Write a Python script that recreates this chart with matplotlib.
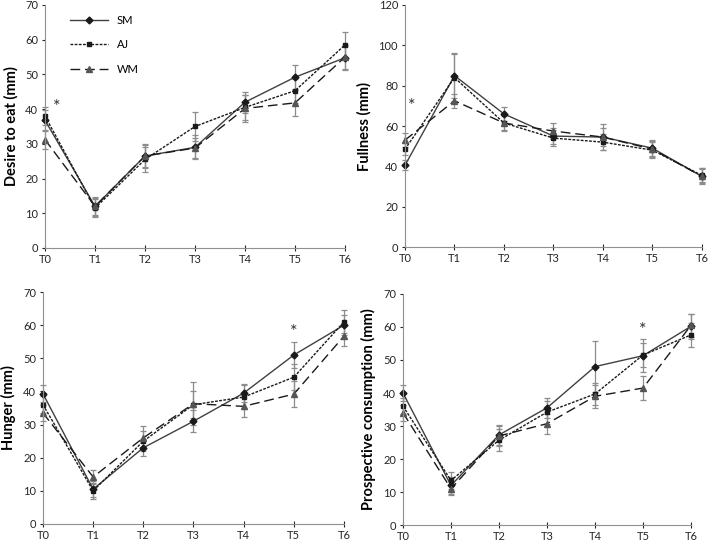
import matplotlib.pyplot as plt

plt.rcParams['font.family'] = ['Lato', 'DejaVu Sans']

times = ['T0', 'T1', 'T2', 'T3', 'T4', 'T5', 'T6']
groups = ['SM', 'AJ', 'WM']

# Desire to eat
desire_sm = [36.8, 12.0, 26.5, 29.0, 42.0, 49.2, 54.8]
desire_aj = [38.0, 11.5, 25.5, 35.0, 40.5, 45.3, 58.5]
desire_wm = [31.2, 12.0, 26.5, 28.8, 40.2, 41.8, 55.0]
desire_sm_err = [3.0, 2.8, 3.5, 3.5, 3.0, 3.5, 3.5]
desire_aj_err = [2.5, 2.5, 3.5, 4.2, 3.5, 3.5, 3.8]
desire_wm_err = [2.8, 2.5, 3.2, 3.0, 4.0, 3.8, 3.5]

# Fullness
full_sm = [40.5, 85.0, 66.0, 55.0, 54.5, 49.0, 35.0]
full_aj = [48.5, 84.0, 61.5, 54.0, 52.0, 48.0, 35.5]
full_wm = [53.0, 72.5, 61.5, 57.5, 54.5, 48.5, 35.0]
full_sm_err = [2.5, 11.0, 3.5, 4.0, 6.5, 4.0, 4.0]
full_aj_err = [3.0, 11.5, 3.5, 4.0, 4.0, 4.0, 3.5]
full_wm_err = [3.5, 3.5, 4.0, 4.0, 4.5, 4.0, 3.5]

# Hunger
hunger_sm = [39.3, 10.5, 23.0, 31.0, 39.5, 51.0, 60.0]
hunger_aj = [36.0, 10.0, 25.0, 36.0, 38.3, 44.3, 61.0]
hunger_wm = [33.5, 14.2, 26.0, 36.3, 35.5, 39.2, 56.7]
hunger_sm_err = [2.5, 2.5, 2.5, 3.3, 2.8, 3.8, 3.0]
hunger_aj_err = [2.5, 2.5, 3.0, 4.0, 3.5, 4.0, 3.5]
hunger_wm_err = [2.5, 2.0, 3.5, 6.5, 3.3, 4.0, 3.0]

# Prospective consumption
prosp_sm = [40.0, 12.0, 27.3, 35.5, 48.0, 51.3, 60.2]
prosp_aj = [36.0, 13.5, 25.7, 34.2, 39.7, 51.5, 57.6]
prosp_wm = [34.0, 11.0, 27.0, 30.7, 39.0, 41.5, 60.5]
prosp_sm_err = [2.5, 2.5, 3.0, 3.0, 7.8, 5.0, 3.8]
prosp_aj_err = [2.5, 2.5, 3.3, 3.5, 3.3, 3.5, 3.7]
prosp_wm_err = [2.5, 2.0, 3.0, 3.0, 3.5, 3.7, 3.5]

panels = [
    ('Desire to eat (mm)', 70, [desire_sm, desire_aj, desire_wm],
     [desire_sm_err, desire_aj_err, desire_wm_err], (0.24, 40.5),
     [0.0635, 0.5433, 0.4231, 0.4475]),
    ('Fullness (mm)', 120, [full_sm, full_aj, full_wm],
     [full_sm_err, full_aj_err, full_wm_err], (0.14, 70.0),
     [0.5712, 0.5451, 0.4188, 0.4457]),
    ('Hunger (mm)', 70, [hunger_sm, hunger_aj, hunger_wm],
     [hunger_sm_err, hunger_aj_err, hunger_wm_err], (5, 58.0),
     [0.0606, 0.035, 0.4246, 0.4272]),
    ('Prospective consumption (mm)', 70, [prosp_sm, prosp_aj, prosp_wm],
     [prosp_sm_err, prosp_aj_err, prosp_wm_err], (5, 59.0),
     [0.5684, 0.0331, 0.4062, 0.4255]),
]

styles = [
    dict(linestyle='-', marker='D', markersize=3.5, color='#404040', mfc='#1a1a1a', mec='#1a1a1a'),
    dict(linestyle=(0, (2, 1)), marker='s', markersize=3.5, color='#1a1a1a', mfc='#1a1a1a', mec='#1a1a1a'),
    dict(linestyle=(0, (7, 3.5)), marker='^', markersize=4.5, color='#1a1a1a', mfc='#555555', mec='#555555'),
]

fig = plt.figure(figsize=(7.09, 5.43), dpi=100)
x = list(range(len(times)))

for ylabel, ymax, series, errs, star, rect in panels:
    ax = fig.add_axes(rect)
    handles = []
    for name, vals, err, st in zip(groups, series, errs, styles):
        cont = ax.errorbar(x, vals, yerr=err, ecolor='#8c8c8c', elinewidth=0.9,
                           capsize=2.5, capthick=0.9, linewidth=1.0, **st)
        cont[0].set_label(name)
        handles.append(cont[0])
    ax.text(star[0], star[1], '*', ha='center', va='center', fontsize=13, color='#333333')
    ax.set_xlim(0, 6)
    ax.set_ylim(0, ymax)
    step = 20 if ymax > 100 else 10
    ax.set_yticks(range(0, ymax + 1, step))
    ax.set_xticks(x)
    ax.set_xticklabels(times)
    ax.tick_params(labelsize=8, colors='#262626', length=2.5, width=0.8, pad=2.5)
    ax.tick_params(axis='x', direction='inout', length=4, pad=2)
    for sp in ['top', 'right']:
        ax.spines[sp].set_visible(False)
    for sp in ['left', 'bottom']:
        ax.spines[sp].set_color('#909090')
    ax.set_ylabel(ylabel, fontsize=10.5, fontweight='bold', labelpad=5)
    for child in ax.get_children():
        child.set_clip_on(False)
    if ylabel.startswith('Desire'):
        ax.legend(handles=handles, loc='upper left', bbox_to_anchor=(0.05, 1.0), frameon=False,
                  fontsize=8, handlelength=3.4, labelspacing=1.2)

fig.savefig('out.png', dpi=100)
